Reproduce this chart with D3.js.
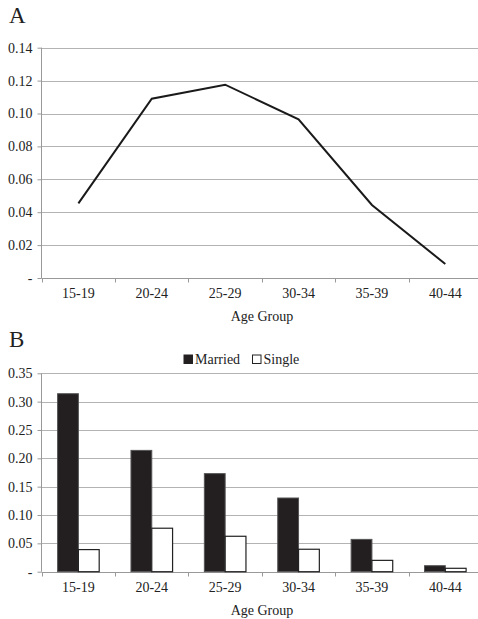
<!DOCTYPE html>
<html>
<head>
<meta charset="utf-8">
<script src="https://cdn.jsdelivr.net/npm/d3@7"></script>
<style>
  body { margin: 0; background: #fff; }
</style>
</head>
<body>
<div id="chart"></div>
<script>
// age groups shared by both panels
var ageGroups = ["15-19", "20-24", "25-29", "30-34", "35-39", "40-44"];

// panel A: overall rate
var rateValues = [0.0454, 0.109, 0.1175, 0.0965, 0.0444, 0.0085];
var ticksA = [0, 0.02, 0.04, 0.06, 0.08, 0.10, 0.12, 0.14];

// panel B: married vs single
var seriesNames = ["Married", "Single"];
var marriedValues = [0.314, 0.214, 0.173, 0.130, 0.057, 0.0106];
var singleValues = [0.039, 0.0767, 0.0625, 0.0396, 0.020, 0.006];
var ticksB = [0, 0.05, 0.10, 0.15, 0.20, 0.25, 0.30, 0.35];

var width = 478, height = 619;
var serif = "'Liberation Serif', 'Times New Roman', serif";

var svg = d3.select("#chart").append("svg")
  .attr("width", width)
  .attr("height", height)
  .style("font-family", serif);

var gridColor = "#b3b3b3";
var axisColor = "#999";
var textColor = "#222";

// x scale runs a bit past the right edge, like the original
var xBand = d3.scaleBand()
  .domain(ageGroups)
  .range([41.7, 482]);

function drawFrame(yScale, ticks, fmt, top, bottom, title, titleY) {
  // panel letter
  svg.append("text")
    .attr("x", 9)
    .attr("y", titleY)
    .style("font-family", serif)
    .style("font-size", "23px")
    .style("fill", textColor)
    .text(title);

  // gridlines
  svg.append("g")
    .selectAll("line")
    .data(ticks.filter(function (t) { return t > 0; }))
    .enter()
    .append("line")
    .attr("x1", 41.5)
    .attr("x2", width)
    .attr("y1", function (d) { return Math.round(yScale(d)) + 0.5; })
    .attr("y2", function (d) { return Math.round(yScale(d)) + 0.5; })
    .attr("stroke", gridColor)
    .attr("stroke-width", 1);

  // y axis
  var yAxis = d3.axisLeft(yScale)
    .tickValues(ticks)
    .tickSize(4)
    .tickPadding(5)
    .tickFormat(function (d) { return d === 0 ? "-" : fmt(d); });

  var gy = svg.append("g")
    .attr("transform", "translate(41.5,0)")
    .call(yAxis)
    .attr("font-family", serif);
  gy.selectAll("text")
    .style("font-family", serif)
    .style("font-size", "14px")
    .style("fill", textColor);
  gy.selectAll("line").attr("stroke", axisColor);
  gy.select(".domain").attr("stroke", axisColor).attr("d", "M0," + top + "V" + bottom);

  // x axis
  var xAxis = d3.axisBottom(xBand)
    .tickSize(0)
    .tickPadding(10);

  var gx = svg.append("g")
    .attr("transform", "translate(0," + (Math.round(bottom) + 0.5) + ")")
    .call(xAxis)
    .attr("font-family", serif);
  gx.selectAll("text")
    .style("font-family", serif)
    .style("font-size", "14px")
    .style("fill", textColor);
  gx.select(".domain").attr("stroke", axisColor).attr("d", "M41.5,0H" + width);

  // category boundary ticks
  gx.selectAll(".sep")
    .data(ageGroups)
    .enter()
    .append("line")
    .attr("class", "sep")
    .attr("x1", function (d) { return Math.round(xBand(d)) + 0.5; })
    .attr("x2", function (d) { return Math.round(xBand(d)) + 0.5; })
    .attr("y1", 0)
    .attr("y2", 4)
    .attr("stroke", axisColor);

  // axis title
  svg.append("text")
    .attr("x", 262)
    .attr("y", bottom + 43)
    .attr("text-anchor", "middle")
    .style("font-family", serif)
    .style("font-size", "14px")
    .style("fill", textColor)
    .text("Age Group");
}

///// PANEL A /////
var topA = 47.7, bottomA = 278;
var yA = d3.scaleLinear().domain([0, 0.14]).range([bottomA, topA]);

drawFrame(yA, ticksA, d3.format(".2f"), topA, bottomA, "A", 23);

var line = d3.line()
  .x(function (d, i) { return xBand(ageGroups[i]) + xBand.bandwidth() / 2; })
  .y(function (d) { return yA(d); });

svg.append("path")
  .datum(rateValues)
  .attr("d", line)
  .attr("fill", "none")
  .attr("stroke", "#1a1a1a")
  .attr("stroke-width", 2);

///// PANEL B /////
var topB = 373.3, bottomB = 571.7;
var yB = d3.scaleLinear().domain([0, 0.35]).range([bottomB, topB]);

drawFrame(yB, ticksB, d3.format(".2f"), topB, bottomB, "B", 347);

var barW = 20.8;
var barData = ageGroups.map(function (g, i) {
  return { group: g, married: marriedValues[i], single: singleValues[i] };
});

var groups = svg.append("g")
  .selectAll("g")
  .data(barData)
  .enter()
  .append("g")
  .attr("transform", function (d) {
    return "translate(" + (xBand(d.group) + xBand.bandwidth() / 2) + ",0)";
  });

groups.append("rect")
  .attr("x", -barW)
  .attr("y", function (d) { return yB(d.married); })
  .attr("width", barW)
  .attr("height", function (d) { return bottomB - yB(d.married); })
  .attr("fill", "#231f20")
  .attr("stroke", "#555")
  .attr("stroke-width", 1);

groups.append("rect")
  .attr("x", 0)
  .attr("y", function (d) { return yB(d.single); })
  .attr("width", barW)
  .attr("height", function (d) { return bottomB - yB(d.single); })
  .attr("fill", "#fff")
  .attr("stroke", "#222")
  .attr("stroke-width", 1.2);

// legend
var legendX = [184, 252.5];
var legend = svg.append("g")
  .selectAll("g")
  .data(seriesNames)
  .enter()
  .append("g")
  .attr("transform", function (d, i) { return "translate(" + legendX[i] + ",355)"; });

legend.append("rect")
  .attr("width", 8.5)
  .attr("height", 8.5)
  .attr("fill", function (d, i) { return i === 0 ? "#231f20" : "#fff"; })
  .attr("stroke", "#222")
  .attr("stroke-width", 1);

legend.append("text")
  .attr("x", 11)
  .attr("y", 9)
  .style("font-family", serif)
  .style("font-size", "14px")
  .style("fill", textColor)
  .text(function (d) { return d; });
</script>
</body>
</html>
